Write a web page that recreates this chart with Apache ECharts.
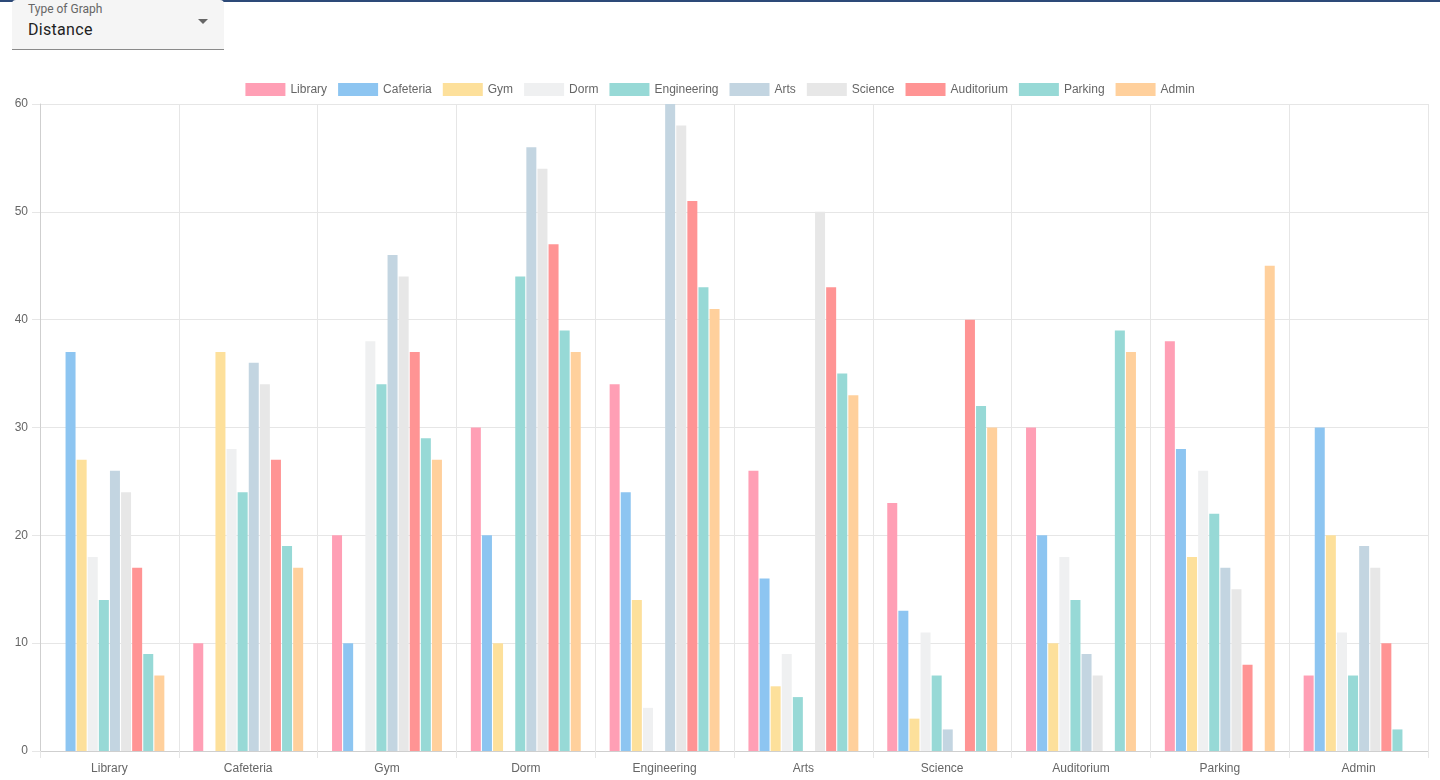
<!DOCTYPE html>
<html>
<head>
<meta charset="utf-8">
<script src="https://cdn.jsdelivr.net/npm/echarts@6/dist/echarts.min.js"></script>
<style>
  html, body { margin: 0; padding: 0; background: #fff; font-family: Roboto, "Liberation Sans", sans-serif; }
  .topbar { position: absolute; left: 0; top: 0; width: 1440px; height: 2px; background: #2d4a78; }
  .select {
    position: absolute; left: 12px; top: 0; width: 212px; height: 49px;
    background: #f5f5f5; border-bottom: 1px solid #8a8a8a; border-radius: 4px 4px 0 0;
  }
  .select .label { position: absolute; left: 16px; top: 2px; font-size: 12px; color: #666; }
  .select .value { position: absolute; left: 16px; top: 20px; font-size: 16px; color: #222; letter-spacing: 0.3px; }
  .select .arrow {
    position: absolute; left: 186px; top: 19px; width: 0; height: 0;
    border-left: 5px solid transparent; border-right: 5px solid transparent; border-top: 5px solid #666;
  }
  #chart { position: absolute; left: 0; top: 0; width: 1440px; height: 780px; }
</style>
</head>
<body>
<div id="chart"></div>
<div class="topbar"></div>
<div class="select">
  <div class="label">Type of Graph</div>
  <div class="value">Distance</div>
  <div class="arrow"></div>
</div>
<script>
const places = ["Library", "Cafeteria", "Gym", "Dorm", "Engineering", "Arts", "Science", "Auditorium", "Parking", "Admin"];

// distance from each category (x) to the series location
const library     = [0, 10, 20, 30, 34, 26, 23, 30, 38, 7];
const cafeteria   = [37, 0, 10, 20, 24, 16, 13, 20, 28, 30];
const gym         = [27, 37, 0, 10, 14, 6, 3, 10, 18, 20];
const dorm        = [18, 28, 38, 0, 4, 9, 11, 18, 26, 11];
const engineering = [14, 24, 34, 44, 0, 5, 7, 14, 22, 7];
const arts        = [26, 36, 46, 56, 60, 0, 2, 9, 17, 19];
const science     = [24, 34, 44, 54, 58, 50, 0, 7, 15, 17];
const auditorium  = [17, 27, 37, 47, 51, 43, 40, 0, 8, 10];
const parking     = [9, 19, 29, 39, 43, 35, 32, 39, 0, 2];
const admin       = [7, 17, 27, 37, 41, 33, 30, 37, 45, 0];

const seriesValues = [library, cafeteria, gym, dorm, engineering, arts, science, auditorium, parking, admin];
const colors = ["#ff9fb5", "#8dc5f1", "#fde09b", "#eff0f1", "#97d9d6", "#c3d5e1", "#e7e7e7", "#ff9494", "#97d9d6", "#ffd09c"];

const chart = echarts.init(document.getElementById("chart"), null, { renderer: "canvas" });

const font = "Liberation Sans";
const gridColor = "#e6e6e6";

chart.setOption({
  animation: false,
  textStyle: { fontFamily: font },
  legend: {
    top: 78,
    left: "center",
    itemWidth: 40,
    itemHeight: 13,
    itemGap: 11,
    icon: "rect",
    textStyle: { color: "#666", fontSize: 12, fontFamily: font },
    data: places,
  },
  grid: { left: 40, right: 12, top: 104, bottom: 29 },
  xAxis: {
    type: "category",
    data: places,
    boundaryGap: true,
    axisLine: { lineStyle: { color: "#cfcfcf" } },
    axisTick: { show: true, length: 7, lineStyle: { color: gridColor } },
    splitLine: { show: true, lineStyle: { color: gridColor } },
    axisLabel: { color: "#666", fontSize: 12, fontFamily: font, margin: 12 },
  },
  yAxis: {
    type: "value",
    min: 0,
    max: 60,
    interval: 10,
    axisLine: { show: true, lineStyle: { color: "#cfcfcf" } },
    axisTick: { show: true, length: 8, lineStyle: { color: gridColor } },
    splitLine: { lineStyle: { color: gridColor } },
    axisLabel: { color: "#666", fontSize: 12, fontFamily: font, margin: 12 },
  },
  series: places.map((name, i) => ({
    name,
    type: "bar",
    data: seriesValues[i],
    barWidth: 10,
    barGap: "11%",
    itemStyle: { color: colors[i] },
  })),
});
</script>
</body>
</html>
